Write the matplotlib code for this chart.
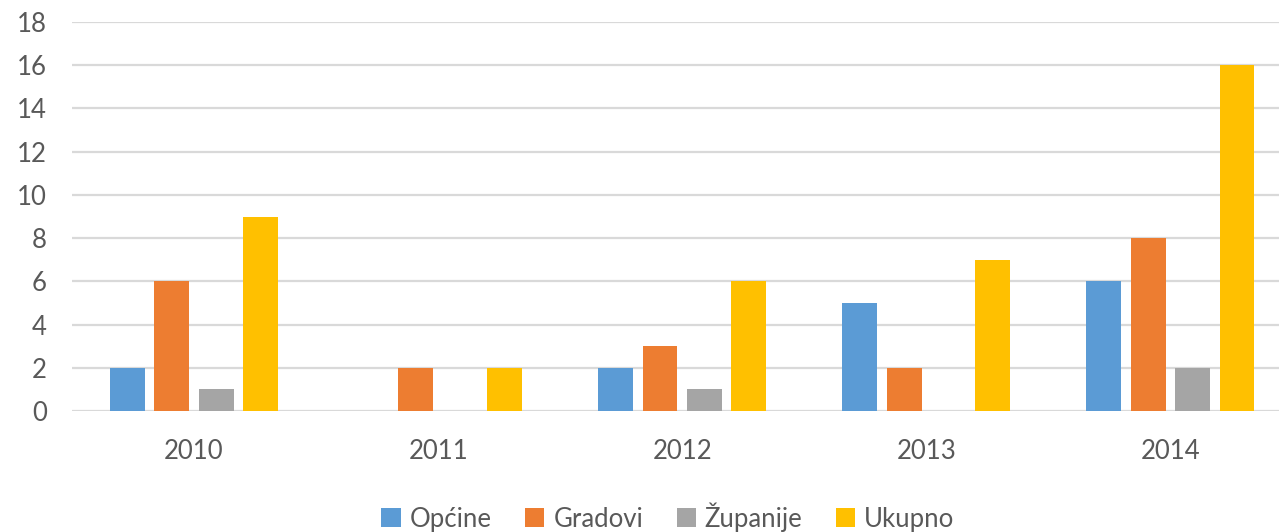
import matplotlib
matplotlib.use("Agg")
import matplotlib.pyplot as plt
import numpy as np
from matplotlib.patches import Patch

years = ["2010", "2011", "2012", "2013", "2014"]
series_names = ["Općine", "Gradovi", "Županije", "Ukupno"]
opcine = [2, 0, 2, 5, 6]
gradovi = [6, 2, 3, 2, 8]
zupanije = [1, 0, 1, 0, 2]
ukupno = [9, 2, 6, 7, 16]
colors = ["#5B9BD5", "#ED7D31", "#A5A5A5", "#FFC000"]
yticks = list(range(0, 19, 2))

plt.rcParams['font.family'] = ['Lato', 'DejaVu Sans']

fig = plt.figure(figsize=(12.79, 5.32), dpi=100)
ax = fig.add_axes([72/1279, 1-411/532, (1279-72)/1279, (411-22)/532])

x = np.arange(len(years))
step = 0.182
width = 0.143
all_series = [opcine, gradovi, zupanije, ukupno]
for i, (vals, c) in enumerate(zip(all_series, colors)):
    ax.bar(x + (i - 1.5) * step, vals, width=width, color=c, zorder=3)

ax.set_xlim(-0.5, 4.445)
ax.set_ylim(0, 18)
ax.set_yticks(yticks)
ax.set_yticklabels([str(t) for t in yticks])
ax.set_xticks(x)
ax.set_xticklabels(years)
ax.tick_params(axis='both', length=0, labelsize=18.5, colors="#595959")
ax.tick_params(axis='y', pad=18)
ax.tick_params(axis='x', pad=20)
ax.grid(axis='y', color="#D9D9D9", linewidth=1.6, zorder=0)
for s in ax.spines.values():
    s.set_visible(False)

handles = [Patch(facecolor=c, edgecolor='none') for c in colors]
fig.legend(handles, series_names, loc='center', bbox_to_anchor=(668/1279, 1-517/532),
           ncol=4, frameon=False, fontsize=18.5, handlelength=0.75, handleheight=0.75,
           handletextpad=0.35, columnspacing=1.3, labelcolor="#595959")

fig.savefig("out.png", dpi=100, facecolor="white")
